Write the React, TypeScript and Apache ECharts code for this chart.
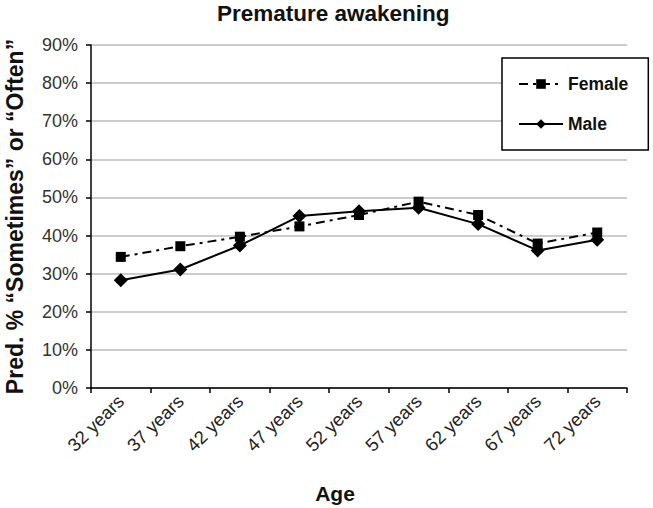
import React, { useEffect, useRef } from "react";
import * as echarts from "echarts";

const categories = ["32 years", "37 years", "42 years", "47 years", "52 years", "57 years", "62 years", "67 years", "72 years"];
const femaleValues = [34.4, 37.2, 39.7, 42.4, 45.4, 48.9, 45.4, 37.9, 40.8];
const maleValues = [28.3, 31.1, 37.4, 45.1, 46.4, 47.3, 43.0, 36.1, 38.9];
const yTicks = [0, 10, 20, 30, 40, 50, 60, 70, 80, 90];

export default function App() {
  const ref = useRef<HTMLDivElement>(null);
  useEffect(() => {
    if (!ref.current) return;
    const chart = echarts.init(ref.current, null, { renderer: "svg" });
    const font = "'Liberation Sans', Arial, sans-serif";
    chart.setOption({
      animation: false,
      backgroundColor: "#ffffff",
      title: {
        text: "Premature awakening",
        left: 212,
        top: -3,
        textStyle: { fontFamily: font, fontSize: 22.5, fontWeight: "bold", color: "#111" },
      },
      graphic: [
        {
          type: "text",
          x: 335,
          y: 493,
          style: {
            text: "Age",
            fontFamily: font,
            fontSize: 21,
            fontWeight: "bold",
            fill: "#111",
            align: "center",
            verticalAlign: "middle",
          },
        },
      ],
      legend: {
        orient: "vertical",
        left: 502,
        top: 58,
        width: 150,
        backgroundColor: "#fff",
        borderColor: "#000",
        borderWidth: 1.5,
        borderRadius: 0,
        padding: [17, 20, 17, 16],
        itemWidth: 44,
        itemHeight: 12,
        itemGap: 22,
        textStyle: { fontFamily: font, fontSize: 17.5, fontWeight: "bold", color: "#111" },
        data: ["Female", "Male"],
      },
      grid: { left: 91, right: 26, top: 45, bottom: 120, containLabel: false, outerBoundsMode: "none" },
      xAxis: {
        type: "category",
        data: categories,
        boundaryGap: true,
        axisLine: { lineStyle: { color: "#000", width: 1.5 } },
        axisTick: { show: true, length: 5, lineStyle: { color: "#000", width: 1.5 } },
        axisLabel: { rotate: 45, fontFamily: font, fontSize: 18.5, color: "#222", margin: 10 },
      },
      yAxis: {
        type: "value",
        min: 0,
        max: 90,
        interval: 10,
        name: "Pred. % \u201cSometimes\u201d or \u201cOften\u201d",
        nameLocation: "middle",
        nameGap: 65,
        nameTextStyle: { fontFamily: font, fontSize: 23, fontWeight: "bold", color: "#111" },
        axisLine: { show: true, lineStyle: { color: "#000", width: 1.5 } },
        axisTick: { show: true, length: 5, lineStyle: { color: "#000", width: 1.5 } },
        axisLabel: {
          fontFamily: font,
          fontSize: 18,
          color: "#333",
          margin: 13,
          formatter: (v: number) => (yTicks.includes(v) ? v + "%" : ""),
        },
        splitLine: { show: true, lineStyle: { color: "#cccccc", width: 2 } },
      },
      series: [
        {
          name: "Female",
          type: "line",
          data: femaleValues,
          symbol: "rect",
          symbolSize: 10,
          color: "#000",
          lineStyle: { color: "#000", width: 2, type: [9, 5, 3, 5] },
          itemStyle: { color: "#000" },
          z: 3,
        },
        {
          name: "Male",
          type: "line",
          data: maleValues,
          symbol: "diamond",
          symbolSize: 14,
          color: "#000",
          lineStyle: { color: "#000", width: 2, type: "solid" },
          itemStyle: { color: "#000" },
          z: 4,
        },
      ],
    });
    return () => chart.dispose();
  }, []);
  return <div ref={ref} style={{ width: 653, height: 508, position: "absolute", left: 0, top: 0 }} />;
}
